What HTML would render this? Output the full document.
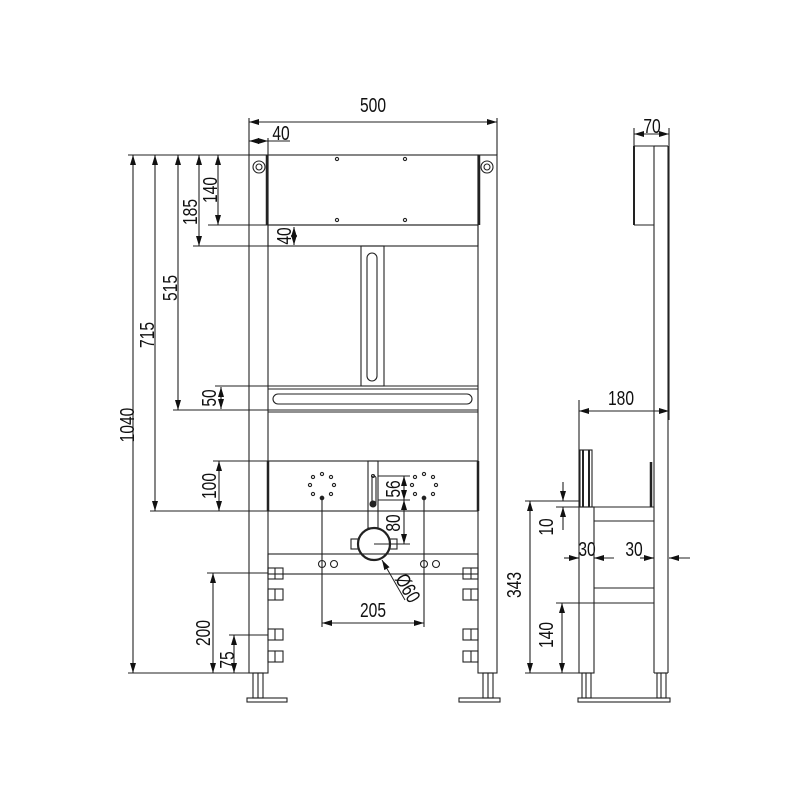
<!DOCTYPE html>
<html><head><style>
html,body{margin:0;padding:0;background:#fff}
svg{display:block}
text{font-family:"Liberation Sans",sans-serif;font-size:20px;fill:#111}
</style></head><body>
<svg width="800" height="800" viewBox="0 0 800 800" xmlns="http://www.w3.org/2000/svg">
<defs>
<marker id="a" viewBox="0 0 10 6" refX="10" refY="3" markerWidth="10" markerHeight="6" orient="auto-start-reverse" markerUnits="userSpaceOnUse"><path d="M0,0 L10,3 L0,6 z" fill="#111"/></marker>
</defs>
<g stroke="#222" stroke-width="1.1" fill="none">
<rect x="249" y="155" width="19" height="518"/>
<rect x="478" y="155" width="19" height="518"/>
<line x1="267" y1="155" x2="267" y2="225" stroke-width="2.5"/>
<line x1="479" y1="155" x2="479" y2="225" stroke-width="2.5"/>
<circle cx="259" cy="167" r="6"/><circle cx="259" cy="167" r="3"/>
<circle cx="487" cy="167" r="6"/><circle cx="487" cy="167" r="3"/>
<rect x="268" y="155" width="210" height="70"/>
<g fill="none"><circle cx="337" cy="159" r="1.6"/><circle cx="405" cy="159" r="1.6"/><circle cx="337" cy="220" r="1.6"/><circle cx="405" cy="220" r="1.6"/></g>
<rect x="268" y="225" width="210" height="21"/>
<rect x="361" y="246" width="23" height="140"/>
<rect x="367" y="253" width="10" height="128" rx="5"/>
<line x1="268" y1="386" x2="478" y2="386"/>
<line x1="268" y1="389" x2="478" y2="389"/>
<line x1="268" y1="410" x2="478" y2="410"/>
<line x1="268" y1="412" x2="478" y2="412"/>
<rect x="273" y="394" width="199" height="10" rx="5"/>
<rect x="268" y="461" width="210" height="50"/>
<line x1="268" y1="461" x2="268" y2="511" stroke-width="2.5"/>
<line x1="478" y1="461" x2="478" y2="511" stroke-width="2.5"/>
<rect x="368" y="461" width="10" height="67"/>
<rect x="372" y="476" width="4" height="28" rx="2"/>
<circle cx="373" cy="476" r="1.5"/>
<circle cx="373" cy="504" r="3" fill="#222"/>
<g>
<circle cx="322" cy="474" r="1.6"/><circle cx="331" cy="477" r="1.6"/><circle cx="334" cy="485" r="1.6"/><circle cx="331" cy="494" r="1.6"/><circle cx="322" cy="498" r="1.8" fill="#222"/><circle cx="313" cy="494" r="1.6"/><circle cx="310" cy="485" r="1.6"/><circle cx="313" cy="477" r="1.6"/>
<circle cx="424" cy="474" r="1.6"/><circle cx="433" cy="477" r="1.6"/><circle cx="436" cy="485" r="1.6"/><circle cx="433" cy="494" r="1.6"/><circle cx="424" cy="498" r="1.8" fill="#222"/><circle cx="415" cy="494" r="1.6"/><circle cx="412" cy="485" r="1.6"/><circle cx="415" cy="477" r="1.6"/>
</g>
<circle cx="374" cy="544" r="16" stroke-width="2.2"/>
<line x1="374" y1="544" x2="393" y2="544"/>
<rect x="351" y="539" width="7" height="10"/><rect x="390" y="539" width="7" height="10"/>
<rect x="268" y="554" width="210" height="20"/>
<circle cx="322" cy="564" r="3.5"/><circle cx="334" cy="564" r="3.5"/>
<circle cx="424" cy="564" r="3.5"/><circle cx="436" cy="564" r="3.5"/>
<line x1="322" y1="498" x2="322" y2="627"/>
<line x1="424" y1="498" x2="424" y2="627"/>
<g>
<rect x="268" y="568" width="15" height="11"/><line x1="275" y1="568" x2="275" y2="579"/>
<rect x="268" y="589" width="15" height="11"/><line x1="275" y1="589" x2="275" y2="600"/>
<rect x="268" y="629" width="15" height="11"/><line x1="275" y1="629" x2="275" y2="640"/>
<rect x="268" y="651" width="15" height="11"/><line x1="275" y1="651" x2="275" y2="662"/>
<rect x="463" y="568" width="15" height="11"/><line x1="471" y1="568" x2="471" y2="579"/>
<rect x="463" y="589" width="15" height="11"/><line x1="471" y1="589" x2="471" y2="600"/>
<rect x="463" y="629" width="15" height="11"/><line x1="471" y1="629" x2="471" y2="640"/>
<rect x="463" y="651" width="15" height="11"/><line x1="471" y1="651" x2="471" y2="662"/>
</g>
<rect x="253" y="673" width="10" height="25"/><line x1="258" y1="673" x2="258" y2="698"/>
<rect x="247" y="698" width="40" height="4"/>
<rect x="483" y="673" width="10" height="25"/><line x1="488" y1="673" x2="488" y2="698"/>
<rect x="459" y="698" width="41" height="4"/>

<line x1="249" y1="118" x2="249" y2="155"/>
<line x1="497" y1="118" x2="497" y2="155"/>
<line x1="268" y1="138" x2="268" y2="155"/>
<line x1="128" y1="155" x2="249" y2="155"/>
<line x1="208" y1="225" x2="268" y2="225"/>
<line x1="193" y1="246" x2="268" y2="246"/>
<line x1="173" y1="410" x2="268" y2="410"/>
<line x1="215" y1="386" x2="268" y2="386"/>
<line x1="150" y1="511" x2="268" y2="511"/>
<line x1="213" y1="461" x2="268" y2="461"/>
<line x1="128" y1="673" x2="249" y2="673"/>
<line x1="207" y1="573" x2="268" y2="573"/>
<line x1="229" y1="635" x2="268" y2="635"/>
<line x1="378" y1="476" x2="410" y2="476"/>
<line x1="378" y1="500" x2="410" y2="500"/>
<line x1="393" y1="544" x2="410" y2="544"/>
<line x1="283" y1="574" x2="463" y2="574"/>
</g>
<g stroke="#222" stroke-width="1.1" marker-start="url(#a)" marker-end="url(#a)">
<line x1="249" y1="122" x2="497" y2="122"/>
<line x1="249" y1="141" x2="268" y2="141"/>
<line x1="133" y1="155" x2="133" y2="673"/>
<line x1="155" y1="155" x2="155" y2="511"/>
<line x1="178" y1="155" x2="178" y2="410"/>
<line x1="199" y1="155" x2="199" y2="246"/>
<line x1="218" y1="155" x2="218" y2="225"/>
<line x1="294" y1="227" x2="294" y2="245"/>
<line x1="221" y1="387" x2="221" y2="409"/>
<line x1="219" y1="461" x2="219" y2="511"/>
<line x1="404" y1="476" x2="404" y2="500"/>
<line x1="404" y1="500" x2="404" y2="544"/>
<line x1="213" y1="573" x2="213" y2="673"/>
<line x1="234" y1="635" x2="234" y2="673"/>
<line x1="322" y1="623" x2="424" y2="623"/>
</g>
<line x1="405" y1="600" x2="382" y2="560" stroke="#222" marker-end="url(#a)"/>
<line x1="268" y1="141" x2="290" y2="141" stroke="#222"/>

<g text-anchor="middle">
<text transform="translate(373 112) scale(0.78 1)">500</text>
<text transform="translate(281 140) scale(0.78 1)">40</text>
<text transform="translate(127 425) rotate(-90) scale(0.78 1)" y="7">1040</text>
<text transform="translate(147 335) rotate(-90) scale(0.78 1)" y="7">715</text>
<text transform="translate(170 288) rotate(-90) scale(0.78 1)" y="7">515</text>
<text transform="translate(190 212) rotate(-90) scale(0.78 1)" y="7">185</text>
<text transform="translate(210 190) rotate(-90) scale(0.78 1)" y="7">140</text>
<text transform="translate(284 236) rotate(-90) scale(0.78 1)" y="7">40</text>
<text transform="translate(209 398) rotate(-90) scale(0.78 1)" y="7">50</text>
<text transform="translate(209 486) rotate(-90) scale(0.78 1)" y="7">100</text>
<text transform="translate(393 489) rotate(-90) scale(0.78 1)" y="7">56</text>
<text transform="translate(393 523) rotate(-90) scale(0.78 1)" y="7">80</text>
<text transform="translate(203 633) rotate(-90) scale(0.78 1)" y="7">200</text>
<text transform="translate(227 660) rotate(-90) scale(0.78 1)" y="7">75</text>
<text transform="translate(373 617) scale(0.78 1)">205</text>
<text transform="translate(408 588) rotate(60) scale(0.78 1)" y="7">Ø60</text>
<text transform="translate(652 133) scale(0.78 1)">70</text>
<text transform="translate(621 405) scale(0.78 1)">180</text>
<text transform="translate(587 556) scale(0.78 1)">30</text>
<text transform="translate(634 556) scale(0.78 1)">30</text>
<text transform="translate(546 527) rotate(-90) scale(0.78 1)" y="7">10</text>
<text transform="translate(514 585) rotate(-90) scale(0.78 1)" y="7">343</text>
<text transform="translate(546 635) rotate(-90) scale(0.78 1)" y="7">140</text>
</g>

<g stroke="#222" stroke-width="1.1" fill="none">
<line x1="654" y1="146" x2="654" y2="673"/>
<line x1="668" y1="146" x2="668" y2="673"/>
<line x1="654" y1="146" x2="668" y2="146"/>
<line x1="654" y1="673" x2="668" y2="673"/>
<line x1="634" y1="146" x2="634" y2="225" stroke-width="2"/>
<line x1="634" y1="146" x2="654" y2="146"/>
<line x1="634" y1="225" x2="654" y2="225"/>
<line x1="634" y1="128" x2="634" y2="146"/>
<line x1="669" y1="128" x2="669" y2="146"/>
<rect x="579" y="507" width="15" height="166"/>
<rect x="580" y="450" width="12" height="57"/>
<line x1="583" y1="450" x2="583" y2="507" stroke-width="2"/>
<line x1="589" y1="450" x2="589" y2="507" stroke-width="2"/>
<line x1="651" y1="462" x2="651" y2="507" stroke-width="2.5"/>
<line x1="594" y1="507" x2="654" y2="507"/>
<line x1="594" y1="521" x2="654" y2="521"/>
<line x1="594" y1="588" x2="654" y2="588"/>
<line x1="594" y1="603" x2="654" y2="603"/>
<line x1="579" y1="400" x2="579" y2="507"/>
<line x1="669" y1="146" x2="669" y2="420"/>
<line x1="525" y1="501" x2="580" y2="501"/>
<line x1="525" y1="673" x2="580" y2="673"/>
<line x1="556" y1="603" x2="594" y2="603"/>
<line x1="556" y1="507" x2="580" y2="507"/>
<rect x="582" y="673" width="9" height="25"/><line x1="586" y1="673" x2="586" y2="698"/>
<rect x="657" y="673" width="9" height="25"/><line x1="661" y1="673" x2="661" y2="698"/>
<rect x="578" y="698" width="92" height="4"/>
<line x1="564" y1="558" x2="579" y2="558"/>
<line x1="594" y1="558" x2="614" y2="558"/>
<line x1="640" y1="558" x2="654" y2="558"/>
<line x1="669" y1="558" x2="690" y2="558"/>
</g>
<g stroke="#222" stroke-width="1.1" marker-start="url(#a)" marker-end="url(#a)">
<line x1="634" y1="134" x2="669" y2="134"/>
<line x1="579" y1="411" x2="669" y2="411"/>
<line x1="530" y1="501" x2="530" y2="673"/>
<line x1="562" y1="603" x2="562" y2="673"/>
</g>
<g stroke="#222" stroke-width="1.1">
<line x1="569" y1="558" x2="579" y2="558" marker-end="url(#a)"/>
<line x1="604" y1="558" x2="594" y2="558" marker-end="url(#a)"/>
<line x1="644" y1="558" x2="654" y2="558" marker-end="url(#a)"/>
<line x1="679" y1="558" x2="669" y2="558" marker-end="url(#a)"/>
<line x1="563" y1="482" x2="563" y2="501" marker-end="url(#a)"/>
<line x1="563" y1="530" x2="563" y2="507" marker-end="url(#a)"/>
</g>
</svg>
</body></html>
